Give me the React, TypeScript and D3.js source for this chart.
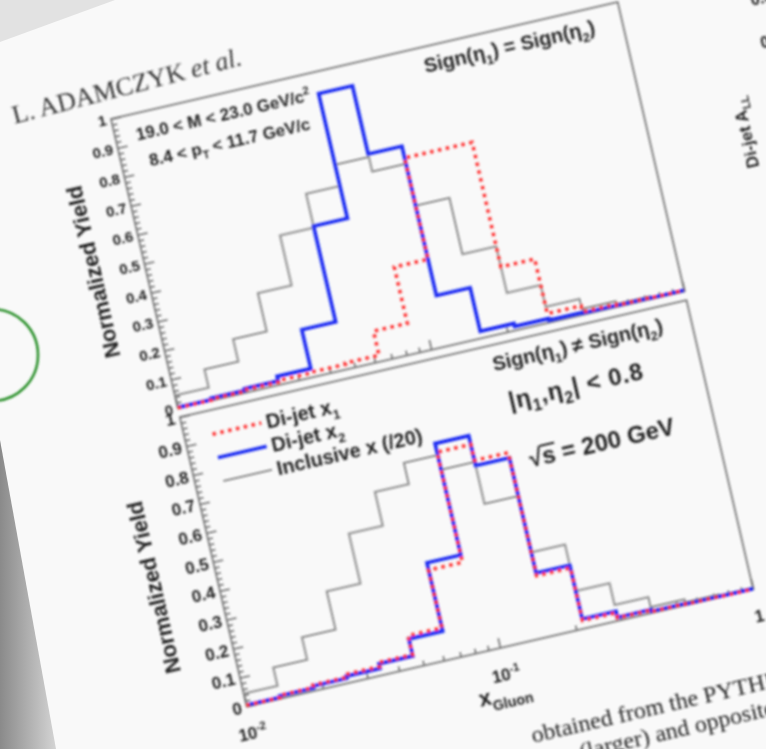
import React, { useEffect, useRef } from 'react';
import * as d3 from 'd3';

// log bins of x, 15 bins between 1e-2 and 1
const xEdges = [0.01, 0.0136, 0.0185, 0.0251, 0.0341, 0.0464, 0.0631, 0.0858, 0.1166, 0.1585, 0.2154, 0.2929, 0.3981, 0.5412, 0.7356, 1.0];

// Sign(eta1) = Sign(eta2)
const sameX1 = [0.002, 0.005, 0.01, 0.015, 0.018, 0.022, 0.105, 0.3, 0.65, 0.65, 0.22, 0.031, 0.01, 0.006, 0.004];
const sameX2 = [0.003, 0.008, 0.014, 0.03, 0.164, 0.495, 0.926, 0.69, 0.174, 0.024, 0.014, 0.008, 0.006, 0.005, 0.004];
// Sign(eta1) != Sign(eta2)
const oppX1 = [0.004, 0.012, 0.02, 0.03, 0.045, 0.11, 0.31, 0.69, 0.635, 0.21, 0.028, 0.01, 0.005, 0.003, 0.002];
const oppX2 = [0.005, 0.01, 0.017, 0.024, 0.04, 0.099, 0.335, 0.72, 0.617, 0.219, 0.033, 0.012, 0.006, 0.004, 0.003];
// inclusive x (/20), same curve in both panels
const inclusiveX = [0.045, 0.108, 0.185, 0.317, 0.49, 0.607, 0.68, 0.63, 0.485, 0.29, 0.13, 0.055, 0.02, 0.01, 0.005];

const yMajor = [0, 0.1, 0.2, 0.3, 0.4, 0.5, 0.6, 0.7, 0.8, 0.9, 1];
const yLabels = ['0', '0.1', '0.2', '0.3', '0.4', '0.5', '0.6', '0.7', '0.8', '0.9', '1'];
const xMajor = [0.01, 0.1, 1];
const xMinor = [0.02, 0.03, 0.04, 0.05, 0.06, 0.07, 0.08, 0.09, 0.2, 0.3, 0.4, 0.5, 0.6, 0.7, 0.8, 0.9];
const xLabelBase = ['10', '10', '1'];
const xLabelExp = ['-2', '-1', ''];

const legendNames = ['Di-jet x', 'Di-jet x', 'Inclusive x (/20)'];
const legendSubs = ['1', '2', ''];

const W = 520;
const PH = 297;
const LOWER_TOP = 306;

const BLUE = '#1d2cf2';
const RED = '#ff2e2e';
const GRAY = '#8c8c8c';
const INK = '#222';
const SANS = 'Liberation Sans, Arial, Helvetica, sans-serif';
const SERIF = 'Liberation Serif, Times New Roman, serif';

type Part = [string, 'n' | 'sub' | 'sup'];

// text with sub/superscripts built from tspans
function rich(sel: any, x: number, y: number, parts: Part[], size: number, anchor = 'start', weight = 'bold', family = SANS) {
  const t = sel.append('text')
    .attr('x', x).attr('y', y)
    .attr('font-size', size)
    .attr('font-family', family)
    .attr('font-weight', weight)
    .attr('text-anchor', anchor)
    .attr('fill', INK);
  let shift = 0;
  parts.forEach(([s, kind]) => {
    const target = kind === 'sub' ? size * 0.3 : kind === 'sup' ? -size * 0.42 : 0;
    t.append('tspan')
      .attr('dy', target - shift)
      .attr('font-size', kind === 'n' ? size : size * 0.65)
      .text(s);
    shift = target;
  });
  return t;
}

const App = () => {
  const ref = useRef<SVGSVGElement>(null);

  useEffect(() => {
    const svg = d3.select(ref.current);
    svg.selectAll('*').remove();

    const defs = svg.append('defs');
    defs.append('filter').attr('id', 'soft')
      .attr('x', '-10%').attr('y', '-10%').attr('width', '120%').attr('height', '120%')
      .append('feGaussianBlur').attr('stdDeviation', 0.9);
    const edge = defs.append('linearGradient').attr('id', 'edge')
      .attr('x1', '0').attr('x2', '1').attr('y1', '0').attr('y2', '0');
    edge.append('stop').attr('offset', '0%').attr('stop-color', '#8a8a8a');
    edge.append('stop').attr('offset', '100%').attr('stop-color', '#d4d4d4');

    // the photographed page
    svg.append('rect').attr('width', 766).attr('height', 749).attr('fill', '#f9f9f9');
    svg.append('path').attr('d', 'M0,440 L56,749 L0,749 Z').attr('fill', 'url(#edge)');
    svg.append('path').attr('d', 'M0,0 L115,0 L0,42 Z').attr('fill', '#e2e2e2');
    svg.append('circle')
      .attr('cx', -8).attr('cy', 355).attr('r', 46)
      .attr('fill', 'none').attr('stroke', '#2f922f').attr('stroke-width', 2.6)
      .attr('filter', 'url(#soft)');

    const g = svg.append('g')
      .attr('transform', 'translate(111,119) rotate(-13)')
      .attr('filter', 'url(#soft)');

    // running header of the page
    const head = g.append('text')
      .attr('transform', 'translate(-95,-17) rotate(-1.5)')
      .attr('font-family', SERIF).attr('font-size', 26).attr('fill', '#333');
    head.append('tspan').text('L. ADAMCZYK ');
    head.append('tspan').attr('font-style', 'italic').text('et al.');

    const x = d3.scaleLog().domain([0.01, 1]).range([0, W]);
    const y = d3.scaleLinear().domain([0, 1]).range([PH, 0]);
    const yMinor = d3.range(0.02, 1, 0.02).filter(v => Math.abs(v * 10 - Math.round(v * 10)) > 1e-6);

    const step = d3.line<[number, number]>()
      .x(d => x(d[0]))
      .y(d => y(d[1]))
      .curve(d3.curveStepAfter);
    const pts = (vals: number[]) => xEdges.map((e, i) => [e, vals[Math.min(i, vals.length - 1)]] as [number, number]);

    const drawPanel = (top: number, x1: number[], x2: number[], lower: boolean) => {
      const p = g.append('g').attr('transform', `translate(0,${top})`);
      const lab = lower ? 17 : 15;

      // y ticks (inward)
      p.append('g').call(d3.axisRight(y).tickValues(yMinor).tickSize(5).tickFormat(() => ''))
        .call(a => a.select('.domain').remove());
      p.append('g').call(d3.axisRight(y).tickValues(yMajor).tickSize(10).tickFormat(() => ''))
        .call(a => a.select('.domain').remove());
      // x ticks (inward)
      p.append('g').attr('transform', `translate(0,${PH})`)
        .call(d3.axisTop(x).tickValues(xMinor).tickSize(5).tickFormat(() => ''))
        .call(a => a.select('.domain').remove());
      p.append('g').attr('transform', `translate(0,${PH})`)
        .call(d3.axisTop(x).tickValues(xMajor).tickSize(10).tickFormat(() => ''))
        .call(a => a.select('.domain').remove());
      p.selectAll('.tick line').attr('stroke', '#505050').attr('stroke-width', 1.3);

      p.append('rect').attr('width', W).attr('height', PH)
        .attr('fill', 'none').attr('stroke', '#6a6a6a').attr('stroke-width', 1.6);

      p.selectAll('.ylab').data(yMajor).join('text')
        .attr('class', 'ylab')
        .attr('x', -5).attr('y', d => y(d)).attr('dy', '0.36em')
        .attr('text-anchor', 'end')
        .attr('font-family', SANS).attr('font-weight', 'bold').attr('font-size', lab)
        .attr('fill', INK)
        .text((d, i) => yLabels[i]);

      p.append('text')
        .attr('transform', lower ? 'translate(-56,160) rotate(-90)' : 'translate(-44,145) rotate(-90)')
        .attr('text-anchor', 'middle')
        .attr('font-family', SANS).attr('font-weight', 'bold').attr('font-size', 22)
        .attr('fill', INK)
        .text('Normalized Yield');

      // histograms
      p.append('path').attr('d', step(pts(inclusiveX)))
        .attr('fill', 'none').attr('stroke', GRAY).attr('stroke-width', 2);
      p.append('path').attr('d', step(pts(x2)))
        .attr('fill', 'none').attr('stroke', BLUE).attr('stroke-width', 3.6);
      p.append('path').attr('d', step(pts(x1)))
        .attr('fill', 'none').attr('stroke', RED).attr('stroke-width', 3.5)
        .attr('stroke-dasharray', '3.5,4.5');
      return p;
    };

    // upper panel
    const up = drawPanel(0, sameX1, sameX2, false);
    rich(up, 21, 27, [['19.0 < M < 23.0 GeV/c', 'n'], ['2', 'sup']], 17);
    rich(up, 28, 55, [['8.4 < p', 'n'], ['T', 'sub'], [' < 11.7 GeV/c', 'n']], 17);
    rich(up, 492, 26, [['Sign(η', 'n'], ['1', 'sub'], [') = Sign(η', 'n'], ['2', 'sub'], [')', 'n']], 20, 'end');

    // lower panel
    const lo = drawPanel(LOWER_TOP, oppX1, oppX2, true);
    rich(lo, 491, 26, [['Sign(η', 'n'], ['1', 'sub'], [') ≠ Sign(η', 'n'], ['2', 'sub'], [')', 'n']], 20, 'end');
    rich(lo, 324, 67, [['|η', 'n'], ['1', 'sub'], [',η', 'n'], ['2', 'sub'], ['| < 0.8', 'n']], 24)
      .attr('letter-spacing', 0.8);
    rich(lo, 331, 128, [['√s = 200 GeV', 'n']], 24);
    lo.append('line').attr('x1', 344).attr('x2', 359).attr('y1', 109).attr('y2', 109)
      .attr('stroke', INK).attr('stroke-width', 2);

    xMajor.forEach((v, i) => {
      const parts: Part[] = xLabelExp[i] ? [[xLabelBase[i], 'n'], [xLabelExp[i], 'sup']] : [[xLabelBase[i], 'n']];
      rich(lo, x(v), PH + 33, parts, 17, 'middle');
    });
    rich(lo, 228, PH + 53, [['x', 'n'], ['Gluon', 'sub']], 22);

    // legend
    const legColors = [RED, BLUE, GRAY];
    const legWidths = [3.5, 3.6, 2];
    const legDash = ['3.5,4.5', null, null];
    legendNames.forEach((name, i) => {
      const ry = 24 + i * 24;
      lo.append('line').attr('x1', 28).attr('x2', 78).attr('y1', ry).attr('y2', ry)
        .attr('stroke', legColors[i]).attr('stroke-width', legWidths[i])
        .attr('stroke-dasharray', legDash[i]);
      const parts: Part[] = legendSubs[i] ? [[name, 'n'], [legendSubs[i], 'sub']] : [[name, 'n']];
      rich(lo, 83, ry + 7, parts, 20);
    });

    // neighbouring figure and caption on the same page
    const ya = g.append('g').attr('transform', 'translate(621,156) rotate(-90)');
    rich(ya, 0, 0, [['Di-jet A', 'n'], ['LL', 'sub']], 17, 'middle');
    rich(g, 650, 34, [['0.04', 'n']], 16);
    rich(g, 650, 78, [['0.03', 'n']], 16);
    rich(g, 271, 703, [['obtained from the PYTHIA', 'n']], 24, 'start', 'normal', SERIF);
    rich(g, 359, 730, [['(larg', 'n']], 24, 'end', 'normal', SERIF);
    rich(g, 359, 730, [['er) and opposite', 'n']], 24, 'start', 'normal', SERIF);
  }, []);

  return <svg ref={ref} width={766} height={749} style={{ position: 'absolute', left: 0, top: 0, display: 'block' }} />;
};

export default App;
